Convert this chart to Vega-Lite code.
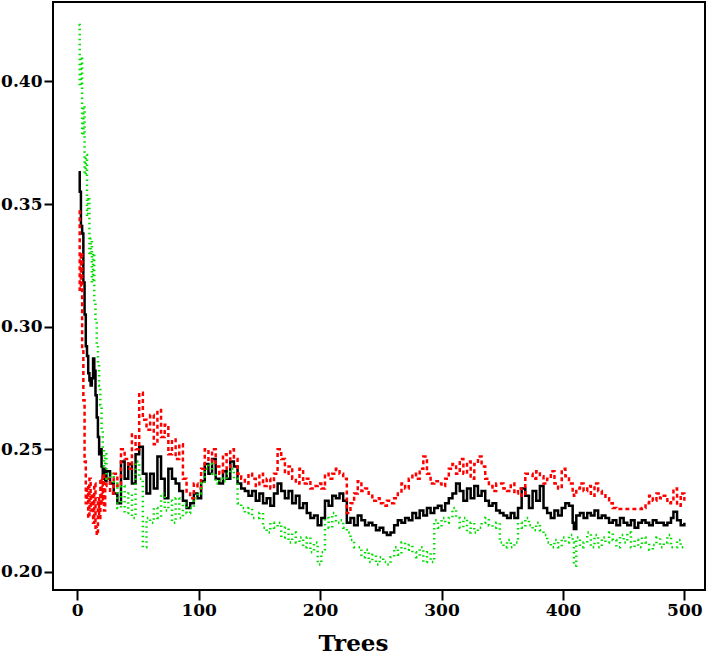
{
  "$schema": "https://vega.github.io/schema/vega-lite/v6.json",
  "width": 652,
  "height": 588,
  "autosize": "none",
  "padding": {"left": 53, "top": 2, "right": 4, "bottom": 72},
  "background": "white",
  "config": {
    "view": {"stroke": "black", "strokeWidth": 2},
    "axis": {
      "domain": false,
      "grid": false,
      "tickColor": "black",
      "tickWidth": 2,
      "labelFont": "DejaVu Serif",
      "labelFontWeight": "bold",
      "labelFontSize": 17,
      "labelColor": "black",
      "titleFont": "DejaVu Serif",
      "titleFontWeight": "bold",
      "titleColor": "black"
    }
  },
  "data": {
    "values": [
      {"t":1,"OOB":0.363,"c1":0.347,"c2":0.423},
      {"t":2,"OOB":0.355,"c1":0.315,"c2":0.398},
      {"t":3,"OOB":0.341,"c1":0.33,"c2":0.41},
      {"t":4,"OOB":0.338,"c1":0.29,"c2":0.378},
      {"t":5,"OOB":0.318,"c1":0.27,"c2":0.39},
      {"t":6,"OOB":0.305,"c1":0.245,"c2":0.362},
      {"t":7,"OOB":0.292,"c1":0.228,"c2":0.37},
      {"t":8,"OOB":0.288,"c1":0.235,"c2":0.345},
      {"t":9,"OOB":0.281,"c1":0.222,"c2":0.352},
      {"t":10,"OOB":0.278,"c1":0.238,"c2":0.33},
      {"t":11,"OOB":0.276,"c1":0.225,"c2":0.336},
      {"t":12,"OOB":0.279,"c1":0.232,"c2":0.318},
      {"t":13,"OOB":0.287,"c1":0.22,"c2":0.33},
      {"t":14,"OOB":0.282,"c1":0.236,"c2":0.31},
      {"t":15,"OOB":0.272,"c1":0.218,"c2":0.302},
      {"t":16,"OOB":0.263,"c1":0.215,"c2":0.293},
      {"t":17,"OOB":0.255,"c1":0.23,"c2":0.285},
      {"t":18,"OOB":0.248,"c1":0.222,"c2":0.276},
      {"t":19,"OOB":0.25,"c1":0.238,"c2":0.268},
      {"t":20,"OOB":0.243,"c1":0.228,"c2":0.258},
      {"t":21,"OOB":0.238,"c1":0.24,"c2":0.25},
      {"t":22,"OOB":0.242,"c1":0.225,"c2":0.243},
      {"t":23,"OOB":0.237,"c1":0.235,"c2":0.248},
      {"t":24,"OOB":0.241,"c1":0.238,"c2":0.238},
      {"t":27,"OOB":0.236,"c1":0.232,"c2":0.24},
      {"t":30,"OOB":0.232,"c1":0.24,"c2":0.236},
      {"t":33,"OOB":0.228,"c1":0.235,"c2":0.226},
      {"t":36,"OOB":0.245,"c1":0.25,"c2":0.235},
      {"t":39,"OOB":0.238,"c1":0.246,"c2":0.224},
      {"t":42,"OOB":0.244,"c1":0.242,"c2":0.232},
      {"t":45,"OOB":0.236,"c1":0.256,"c2":0.222},
      {"t":48,"OOB":0.248,"c1":0.25,"c2":0.245},
      {"t":51,"OOB":0.251,"c1":0.273,"c2":0.238},
      {"t":54,"OOB":0.24,"c1":0.262,"c2":0.21},
      {"t":57,"OOB":0.232,"c1":0.258,"c2":0.222},
      {"t":60,"OOB":0.24,"c1":0.264,"c2":0.22},
      {"t":63,"OOB":0.234,"c1":0.252,"c2":0.226},
      {"t":66,"OOB":0.247,"c1":0.266,"c2":0.222},
      {"t":69,"OOB":0.238,"c1":0.255,"c2":0.232},
      {"t":72,"OOB":0.23,"c1":0.26,"c2":0.225},
      {"t":75,"OOB":0.242,"c1":0.248,"c2":0.229},
      {"t":78,"OOB":0.238,"c1":0.254,"c2":0.22},
      {"t":81,"OOB":0.236,"c1":0.246,"c2":0.23},
      {"t":84,"OOB":0.233,"c1":0.252,"c2":0.222},
      {"t":87,"OOB":0.229,"c1":0.238,"c2":0.228},
      {"t":90,"OOB":0.226,"c1":0.232,"c2":0.224},
      {"t":93,"OOB":0.228,"c1":0.23,"c2":0.226},
      {"t":96,"OOB":0.232,"c1":0.236,"c2":0.23},
      {"t":99,"OOB":0.23,"c1":0.234,"c2":0.232},
      {"t":102,"OOB":0.237,"c1":0.242,"c2":0.236},
      {"t":105,"OOB":0.244,"c1":0.25,"c2":0.242},
      {"t":108,"OOB":0.24,"c1":0.245,"c2":0.244},
      {"t":111,"OOB":0.246,"c1":0.25,"c2":0.24},
      {"t":114,"OOB":0.238,"c1":0.243,"c2":0.236},
      {"t":117,"OOB":0.236,"c1":0.24,"c2":0.238},
      {"t":120,"OOB":0.241,"c1":0.248,"c2":0.237},
      {"t":123,"OOB":0.238,"c1":0.242,"c2":0.24},
      {"t":126,"OOB":0.245,"c1":0.25,"c2":0.242},
      {"t":129,"OOB":0.243,"c1":0.246,"c2":0.238},
      {"t":132,"OOB":0.236,"c1":0.24,"c2":0.228},
      {"t":135,"OOB":0.234,"c1":0.238,"c2":0.226},
      {"t":138,"OOB":0.233,"c1":0.236,"c2":0.224},
      {"t":141,"OOB":0.231,"c1":0.24,"c2":0.226},
      {"t":144,"OOB":0.233,"c1":0.238,"c2":0.222},
      {"t":147,"OOB":0.229,"c1":0.235,"c2":0.222},
      {"t":150,"OOB":0.232,"c1":0.24,"c2":0.224},
      {"t":153,"OOB":0.228,"c1":0.235,"c2":0.218},
      {"t":156,"OOB":0.23,"c1":0.238,"c2":0.216},
      {"t":159,"OOB":0.227,"c1":0.234,"c2":0.22},
      {"t":162,"OOB":0.232,"c1":0.24,"c2":0.218},
      {"t":165,"OOB":0.236,"c1":0.25,"c2":0.22},
      {"t":168,"OOB":0.233,"c1":0.246,"c2":0.214},
      {"t":171,"OOB":0.23,"c1":0.24,"c2":0.218},
      {"t":174,"OOB":0.233,"c1":0.243,"c2":0.212},
      {"t":177,"OOB":0.228,"c1":0.238,"c2":0.216},
      {"t":180,"OOB":0.231,"c1":0.236,"c2":0.212},
      {"t":183,"OOB":0.226,"c1":0.242,"c2":0.214},
      {"t":186,"OOB":0.228,"c1":0.236,"c2":0.21},
      {"t":189,"OOB":0.224,"c1":0.238,"c2":0.214},
      {"t":192,"OOB":0.222,"c1":0.234,"c2":0.208},
      {"t":195,"OOB":0.223,"c1":0.235,"c2":0.212},
      {"t":198,"OOB":0.219,"c1":0.236,"c2":0.203},
      {"t":201,"OOB":0.222,"c1":0.234,"c2":0.208},
      {"t":204,"OOB":0.229,"c1":0.24,"c2":0.222},
      {"t":207,"OOB":0.227,"c1":0.238,"c2":0.218},
      {"t":210,"OOB":0.231,"c1":0.24,"c2":0.224},
      {"t":213,"OOB":0.23,"c1":0.242,"c2":0.22},
      {"t":216,"OOB":0.232,"c1":0.24,"c2":0.221},
      {"t":219,"OOB":0.229,"c1":0.238,"c2":0.218},
      {"t":222,"OOB":0.22,"c1":0.224,"c2":0.216},
      {"t":225,"OOB":0.222,"c1":0.228,"c2":0.213},
      {"t":228,"OOB":0.219,"c1":0.232,"c2":0.21},
      {"t":231,"OOB":0.223,"c1":0.237,"c2":0.21},
      {"t":234,"OOB":0.221,"c1":0.233,"c2":0.206},
      {"t":237,"OOB":0.219,"c1":0.234,"c2":0.209},
      {"t":240,"OOB":0.22,"c1":0.231,"c2":0.204},
      {"t":243,"OOB":0.219,"c1":0.229,"c2":0.207},
      {"t":246,"OOB":0.217,"c1":0.23,"c2":0.203},
      {"t":249,"OOB":0.218,"c1":0.228,"c2":0.206},
      {"t":252,"OOB":0.216,"c1":0.227,"c2":0.204},
      {"t":255,"OOB":0.215,"c1":0.229,"c2":0.203},
      {"t":258,"OOB":0.216,"c1":0.228,"c2":0.206},
      {"t":261,"OOB":0.219,"c1":0.23,"c2":0.21},
      {"t":264,"OOB":0.221,"c1":0.232,"c2":0.207},
      {"t":267,"OOB":0.22,"c1":0.236,"c2":0.212},
      {"t":270,"OOB":0.222,"c1":0.234,"c2":0.209},
      {"t":273,"OOB":0.221,"c1":0.238,"c2":0.211},
      {"t":276,"OOB":0.224,"c1":0.24,"c2":0.208},
      {"t":279,"OOB":0.222,"c1":0.238,"c2":0.206},
      {"t":282,"OOB":0.225,"c1":0.242,"c2":0.21},
      {"t":285,"OOB":0.223,"c1":0.247,"c2":0.204},
      {"t":288,"OOB":0.226,"c1":0.24,"c2":0.208},
      {"t":291,"OOB":0.224,"c1":0.236,"c2":0.204},
      {"t":294,"OOB":0.226,"c1":0.237,"c2":0.221},
      {"t":297,"OOB":0.227,"c1":0.236,"c2":0.218},
      {"t":300,"OOB":0.225,"c1":0.235,"c2":0.222},
      {"t":303,"OOB":0.228,"c1":0.238,"c2":0.22},
      {"t":306,"OOB":0.23,"c1":0.242,"c2":0.222},
      {"t":309,"OOB":0.232,"c1":0.244,"c2":0.226},
      {"t":312,"OOB":0.236,"c1":0.24,"c2":0.222},
      {"t":315,"OOB":0.233,"c1":0.246,"c2":0.218},
      {"t":318,"OOB":0.229,"c1":0.24,"c2":0.222},
      {"t":321,"OOB":0.234,"c1":0.245,"c2":0.216},
      {"t":324,"OOB":0.23,"c1":0.238,"c2":0.22},
      {"t":327,"OOB":0.235,"c1":0.244,"c2":0.216},
      {"t":330,"OOB":0.231,"c1":0.247,"c2":0.218},
      {"t":333,"OOB":0.233,"c1":0.243,"c2":0.22},
      {"t":336,"OOB":0.229,"c1":0.238,"c2":0.222},
      {"t":339,"OOB":0.227,"c1":0.235,"c2":0.219},
      {"t":342,"OOB":0.228,"c1":0.233,"c2":0.218},
      {"t":345,"OOB":0.225,"c1":0.236,"c2":0.22},
      {"t":348,"OOB":0.224,"c1":0.236,"c2":0.212},
      {"t":351,"OOB":0.223,"c1":0.234,"c2":0.21},
      {"t":354,"OOB":0.222,"c1":0.233,"c2":0.213},
      {"t":357,"OOB":0.224,"c1":0.236,"c2":0.21},
      {"t":360,"OOB":0.222,"c1":0.232,"c2":0.212},
      {"t":363,"OOB":0.226,"c1":0.234,"c2":0.22},
      {"t":366,"OOB":0.234,"c1":0.231,"c2":0.218},
      {"t":369,"OOB":0.231,"c1":0.24,"c2":0.222},
      {"t":372,"OOB":0.226,"c1":0.24,"c2":0.219},
      {"t":375,"OOB":0.233,"c1":0.238,"c2":0.217},
      {"t":378,"OOB":0.229,"c1":0.241,"c2":0.22},
      {"t":381,"OOB":0.235,"c1":0.239,"c2":0.217},
      {"t":384,"OOB":0.226,"c1":0.236,"c2":0.215},
      {"t":387,"OOB":0.224,"c1":0.238,"c2":0.212},
      {"t":390,"OOB":0.222,"c1":0.241,"c2":0.21},
      {"t":393,"OOB":0.225,"c1":0.236,"c2":0.213},
      {"t":396,"OOB":0.223,"c1":0.234,"c2":0.21},
      {"t":399,"OOB":0.226,"c1":0.242,"c2":0.214},
      {"t":402,"OOB":0.228,"c1":0.239,"c2":0.212},
      {"t":405,"OOB":0.227,"c1":0.236,"c2":0.215},
      {"t":408,"OOB":0.22,"c1":0.232,"c2":0.212},
      {"t":409,"OOB":0.2175,"c1":0.231,"c2":0.2025},
      {"t":411,"OOB":0.223,"c1":0.234,"c2":0.214},
      {"t":414,"OOB":0.224,"c1":0.236,"c2":0.21},
      {"t":417,"OOB":0.222,"c1":0.233,"c2":0.212},
      {"t":420,"OOB":0.224,"c1":0.235,"c2":0.216},
      {"t":423,"OOB":0.223,"c1":0.231,"c2":0.21},
      {"t":426,"OOB":0.225,"c1":0.236,"c2":0.215},
      {"t":429,"OOB":0.222,"c1":0.233,"c2":0.21},
      {"t":432,"OOB":0.223,"c1":0.232,"c2":0.214},
      {"t":435,"OOB":0.222,"c1":0.23,"c2":0.212},
      {"t":438,"OOB":0.22,"c1":0.228,"c2":0.216},
      {"t":441,"OOB":0.221,"c1":0.226,"c2":0.213},
      {"t":444,"OOB":0.219,"c1":0.2256,"c2":0.21},
      {"t":447,"OOB":0.222,"c1":0.2256,"c2":0.215},
      {"t":450,"OOB":0.22,"c1":0.2256,"c2":0.212},
      {"t":453,"OOB":0.219,"c1":0.2256,"c2":0.216},
      {"t":456,"OOB":0.221,"c1":0.2256,"c2":0.21},
      {"t":459,"OOB":0.218,"c1":0.2256,"c2":0.213},
      {"t":462,"OOB":0.22,"c1":0.2256,"c2":0.21},
      {"t":465,"OOB":0.221,"c1":0.226,"c2":0.214},
      {"t":468,"OOB":0.22,"c1":0.228,"c2":0.212},
      {"t":471,"OOB":0.219,"c1":0.231,"c2":0.209},
      {"t":474,"OOB":0.221,"c1":0.229,"c2":0.211},
      {"t":477,"OOB":0.22,"c1":0.232,"c2":0.214},
      {"t":480,"OOB":0.22,"c1":0.23,"c2":0.21},
      {"t":483,"OOB":0.219,"c1":0.231,"c2":0.212},
      {"t":486,"OOB":0.22,"c1":0.228,"c2":0.215},
      {"t":489,"OOB":0.222,"c1":0.229,"c2":0.21},
      {"t":491,"OOB":0.2245,"c1":0.234,"c2":0.21},
      {"t":494,"OOB":0.221,"c1":0.227,"c2":0.213},
      {"t":497,"OOB":0.219,"c1":0.232,"c2":0.21},
      {"t":500,"OOB":0.22,"c1":0.229,"c2":0.21}
    ]
  },
  "transform": [{"fold": ["OOB", "c1", "c2"], "as": ["series", "err"]}],
  "mark": {"type": "line", "strokeWidth": 2.5, "strokeCap": "butt", "interpolate": "step-after", "clip": true},
  "encoding": {
    "x": {
      "field": "t",
      "type": "quantitative",
      "scale": {"domain": [-20, 517], "nice": false, "zero": false},
      "axis": {
        "values": [0, 100, 200, 300, 400, 500],
        "tickSize": 10,
        "labelPadding": 2,
        "title": "Trees",
        "titleFontSize": 23,
        "titleX": 300,
        "titleY": 60,
        "titleAlign": "center",
        "titleBaseline": "alphabetic"
      }
    },
    "y": {
      "field": "err",
      "type": "quantitative",
      "scale": {"domain": [0.1926, 0.4324], "nice": false, "zero": false},
      "axis": {
        "values": [0.2, 0.25, 0.3, 0.35, 0.4],
        "format": ".2f",
        "tickSize": 9,
        "labelPadding": 2,
        "title": null
      }
    },
    "color": {
      "field": "series",
      "type": "nominal",
      "scale": {"domain": ["OOB", "c1", "c2"], "range": ["#000000", "#ff0000", "#00e000"]},
      "legend": null
    },
    "strokeDash": {
      "field": "series",
      "type": "nominal",
      "scale": {"domain": ["OOB", "c1", "c2"], "range": [[1, 0], [4, 3], [1.5, 3.5]]},
      "legend": null
    },
    "order": {"field": "t", "type": "quantitative"}
  }
}
